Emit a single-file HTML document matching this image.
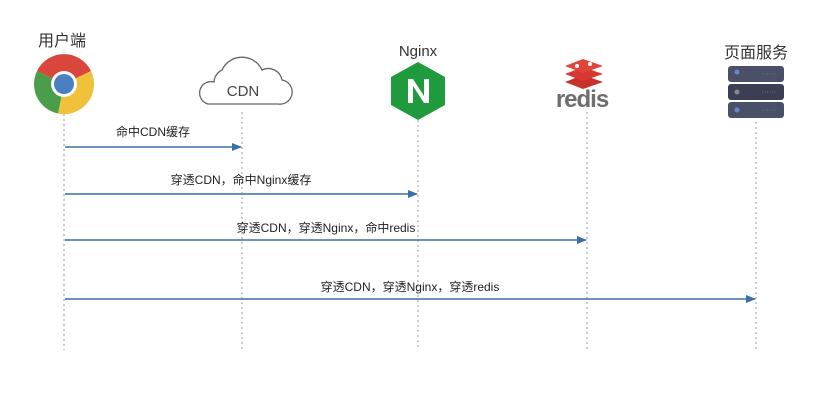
<!DOCTYPE html>
<html><head><meta charset="utf-8"><style>
body{margin:0;background:#fff;}
svg text{font-family:"Liberation Sans","Noto Sans CJK SC",sans-serif;}
</style></head><body>
<svg width="828" height="405" viewBox="0 0 828 405" xmlns="http://www.w3.org/2000/svg">
<defs><marker id="a" markerWidth="10" markerHeight="8" refX="9" refY="4" orient="auto" markerUnits="userSpaceOnUse"><path d="M0,0L10,4L0,8z" fill="#3b6fa8"/></marker></defs>
<g stroke="#999" stroke-width="1" stroke-dasharray="2,3">
<line x1="64" y1="114" x2="64" y2="350"/><line x1="242" y1="112" x2="242" y2="350"/>
<line x1="418" y1="120" x2="418" y2="350"/><line x1="587" y1="112" x2="587" y2="350"/>
<line x1="756" y1="122" x2="756" y2="350"/></g>
<!-- chrome -->
<text x="62" y="46" font-size="16" text-anchor="middle" fill="#333">用户端</text>
<g transform="translate(64,84)">
<path d="M0,0 L-27,-13 A30,30 0 0 1 27,-13 Z" fill="#d9463b"/>
<path d="M0,0 L27,-13 A30,30 0 0 1 -6,29.5 Z" fill="#f0c13a"/>
<path d="M0,0 L-6,29.5 A30,30 0 0 1 -27,-13 Z" fill="#4a9d4a"/>
<circle r="13" fill="#fff"/><circle r="10" fill="#4a7fc1"/></g>
<!-- cloud -->
<path d="M208,104 H278 A12,12 0 0 0 282,80 A14,14 0 0 0 262,70 A22,22 0 0 0 222,70 A14,14 0 0 0 214,82 A11,11 0 0 0 208,104 Z" fill="#fff" stroke="#666" stroke-width="1.3"/>
<text x="243" y="96" font-size="15" text-anchor="middle" fill="#444">CDN</text>
<!-- nginx -->
<text x="418" y="56" font-size="15" text-anchor="middle" fill="#333">Nginx</text>
<polygon points="418,62 445,77 445,105 418,120 391,105 391,77" fill="#1f9a3c"/>
<path d="M408,103 V79 H413 L424,96 V79 H429 V103 H424 L413,86 V103 Z" fill="#fff"/>
<!-- redis -->
<g fill="#c9302c"><path d="M565,82 L583,75 L603,82 L583,89Z"/><path d="M565,74 L583,67 L603,74 L583,81Z" fill="#d8382f"/><path d="M565,66 L583,59 L603,66 L583,73Z" fill="#e0453a"/></g>
<circle cx="590" cy="64" r="2" fill="#fff"/><circle cx="577" cy="66" r="2" fill="#fff"/>
<text x="582" y="107" font-size="24" font-weight="bold" text-anchor="middle" fill="#6e6e6e" letter-spacing="-1">redis</text>
<!-- server -->
<text x="756" y="58" font-size="16" text-anchor="middle" fill="#333">页面服务</text>
<g fill="#4a5068"><rect x="728" y="66" width="56" height="16" rx="3"/><rect x="728" y="84" width="56" height="16" rx="3" fill="#3a3f54"/><rect x="728" y="102" width="56" height="16" rx="3"/></g>
<g fill="#6b86c8"><circle cx="737" cy="72" r="2.5"/><circle cx="737" cy="92" r="2.5" fill="#888"/><circle cx="737" cy="110" r="2.5"/></g>
<g stroke="#6b7590" stroke-dasharray="1,1.5"><line x1="762" y1="74" x2="777" y2="74"/><line x1="762" y1="92" x2="777" y2="92"/><line x1="762" y1="110" x2="777" y2="110"/></g>
<!-- arrows -->
<g stroke="#3b6fa8" stroke-width="1.6" marker-end="url(#a)">
<line x1="65" y1="147" x2="241" y2="147"/><line x1="65" y1="194" x2="417" y2="194"/>
<line x1="65" y1="240" x2="586" y2="240"/><line x1="65" y1="299" x2="755" y2="299"/></g>
<g font-size="12" fill="#222" text-anchor="middle">
<text x="153" y="136">命中CDN缓存</text>
<text x="241" y="184">穿透CDN，命中Nginx缓存</text>
<text x="326" y="232">穿透CDN，穿透Nginx，命中redis</text>
<text x="410" y="291">穿透CDN，穿透Nginx，穿透redis</text></g>
</svg>
</body></html>
